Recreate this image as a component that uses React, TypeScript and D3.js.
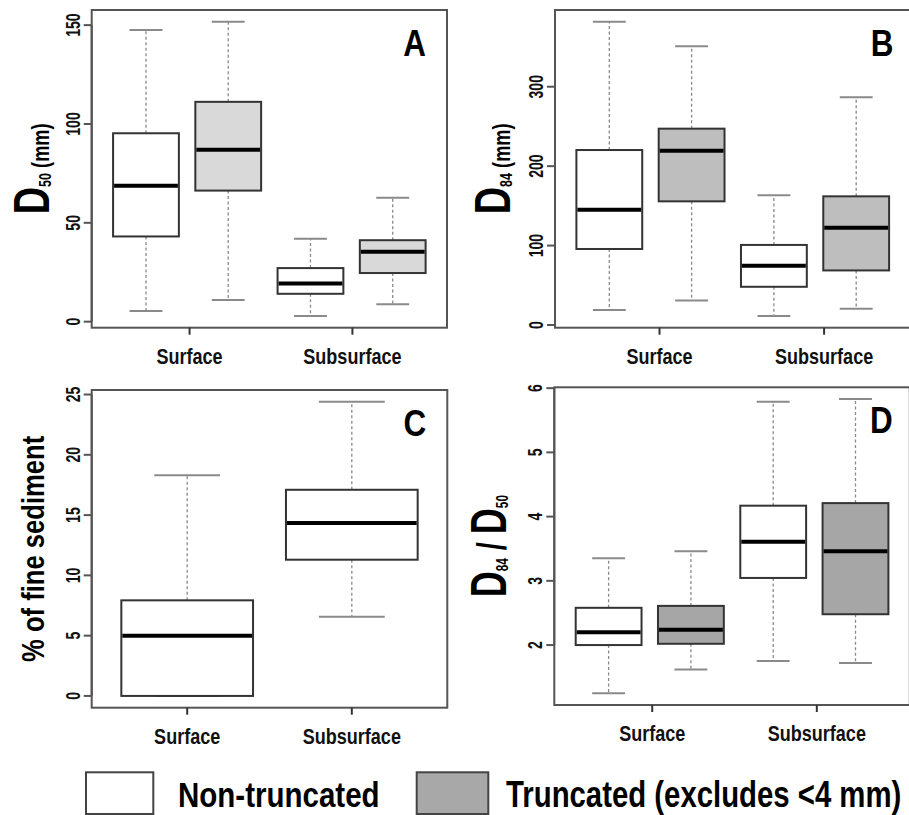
import React from 'react';
import * as d3 from 'd3';

// Five-number summaries per group: [lower whisker, Q1, median, Q3, upper whisker]
const groups = ['Surface', 'Subsurface'];

const d50NonTruncated = [[5.4, 43.1, 68.8, 95.3, 147.5], [2.9, 14.1, 19.3, 27.1, 41.9]];
const d50Truncated = [[11.0, 66.3, 87.0, 111.2, 151.7], [8.8, 24.6, 35.4, 41.2, 62.7]];

const d84NonTruncated = [[19.0, 95.7, 145.0, 220.3, 381.8], [11.4, 48.1, 74.7, 100.8, 163.3]];
const d84Truncated = [[30.8, 155.7, 219.4, 247.2, 351.0], [20.6, 68.7, 122.3, 162.0, 286.8]];

const fineNonTruncated = [[0, 0, 5.0, 7.93, 18.3], [6.57, 11.3, 14.35, 17.1, 24.4]];

const ratioNonTruncated = [[1.25, 2.0, 2.2, 2.58, 3.35], [1.75, 3.045, 3.61, 4.17, 5.79]];
const ratioTruncated = [[1.62, 2.02, 2.24, 2.61, 3.46], [1.72, 2.48, 3.46, 4.21, 5.83]];

const d50Ticks = [0, 50, 100, 150];
const d84Ticks = [0, 100, 200, 300];
const fineTicks = [0, 5, 10, 15, 20, 25];
const ratioTicks = [2, 3, 4, 5, 6];

const legendLabels = ['Non-truncated', 'Truncated (excludes <4 mm)'];

const FONT = "'Liberation Sans', Arial, 'Helvetica', sans-serif";

// condensed bold text helper
function NText({ x, y, rot = 0, sx = 0.82, size, anchor = 'start', fill = '#000', children }: any) {
  return (
    <text transform={`translate(${x},${y}) rotate(${rot}) scale(${sx},1)`} textAnchor={anchor}
      fontFamily={FONT} fontWeight="bold" fontSize={size} fill={fill}>{children}</text>
  );
}

type Box = number[];
interface PanelSpec {
  key: string;
  letter: string;
  frame: [number, number, number, number]; // left, top, right, bottom
  boxes: { stats: Box; fill: string }[];
  yTicks: number[];
  xTickAt: number[];
  label: React.ReactNode;
  labelX: number;
  labelSx: number;
}

function Panel({ p }: { p: PanelSpec }) {
  const [L, T, R, B] = p.frame;
  const n = p.boxes.length;
  const x = d3.scaleLinear().domain([0.5 - 0.04 * n, n + 0.5 + 0.04 * n]).range([L, R]);
  const all = p.boxes.flatMap(b => [b.stats[0], b.stats[4]]);
  const [mn, mx] = d3.extent(all) as [number, number];
  const pad = (mx - mn) * 0.04;
  const y = d3.scaleLinear().domain([mn - pad, mx + pad]).range([B, T]);
  const bw = x(1.4) - x(0.6);
  const cw = bw / 2;
  const cy = (T + B) / 2;
  return (
    <g>
      {p.boxes.map((b, i) => {
        const cx = x(i + 1);
        const [lo, q1, md, q3, hi] = b.stats;
        return (
          <g key={i}>
            <line x1={cx} x2={cx} y1={y(q3)} y2={y(hi)} stroke="#8a8a8a" strokeWidth={1.3} strokeDasharray="3,2.5" />
            <line x1={cx} x2={cx} y1={y(q1)} y2={y(lo)} stroke="#8a8a8a" strokeWidth={1.3} strokeDasharray="3,2.5" />
            <line x1={cx - cw / 2} x2={cx + cw / 2} y1={y(hi)} y2={y(hi)} stroke="#8a8a8a" strokeWidth={2} />
            <line x1={cx - cw / 2} x2={cx + cw / 2} y1={y(lo)} y2={y(lo)} stroke="#8a8a8a" strokeWidth={2} />
            <rect x={cx - bw / 2} y={y(q3)} width={bw} height={y(q1) - y(q3)} fill={b.fill} stroke="#333" strokeWidth={2} />
            <line x1={cx - bw / 2 + 1} x2={cx + bw / 2 - 1} y1={y(md)} y2={y(md)} stroke="#000" strokeWidth={4} />
          </g>
        );
      })}
      <rect x={L} y={T} width={R - L} height={B - T} fill="none" stroke="#555" strokeWidth={2} />
      <line x1={L} x2={L} y1={y(p.yTicks[0])} y2={y(p.yTicks[p.yTicks.length - 1])} stroke="#555" strokeWidth={2} />
      {p.yTicks.map(t => (
        <g key={t}>
          <line x1={L - 8} x2={L} y1={y(t)} y2={y(t)} stroke="#555" strokeWidth={2} />
          <NText x={L - 12} y={y(t)} rot={-90} sx={0.72} size={19.5} anchor="middle" fill="#111">{t}</NText>
        </g>
      ))}
      {p.xTickAt.map((t, i) => (
        <g key={i}>
          <line x1={x(t)} x2={x(t)} y1={B} y2={B + 7} stroke="#333" strokeWidth={2} />
          <NText x={x(t)} y={B + 36} size={22} anchor="middle" fill="#111">{groups[i]}</NText>
        </g>
      ))}
      <NText x={R - (R > 900 ? 17 : 21)} y={T + 46} size={37} sx={0.85} anchor="end">{p.letter}</NText>
      <NText x={p.labelX} y={cy} rot={-90} sx={p.labelSx} anchor="middle">{p.label}</NText>
    </g>
  );
}

const dLabel = (sub: string, rest: React.ReactNode) => (
  <>
    <tspan fontSize={50}>D</tspan>
    <tspan fontSize={16.5} dy={2}>{sub}</tspan>
    <tspan dy={-2}>{rest}</tspan>
  </>
);

export default function App() {
  const white = '#ffffff';
  const panels: PanelSpec[] = [
    {
      key: 'A', letter: 'A', frame: [91.7, 10, 447, 327.7],
      boxes: [
        { stats: d50NonTruncated[0], fill: white },
        { stats: d50Truncated[0], fill: '#d9d9d9' },
        { stats: d50NonTruncated[1], fill: white },
        { stats: d50Truncated[1], fill: '#d9d9d9' },
      ],
      yTicks: d50Ticks, xTickAt: [1.53, 3.51],
      label: dLabel('50', <tspan fontSize={24}> (mm)</tspan>), labelX: 49, labelSx: 0.76,
    },
    {
      key: 'B', letter: 'B', frame: [555, 10, 910.5, 327.7],
      boxes: [
        { stats: d84NonTruncated[0], fill: white },
        { stats: d84Truncated[0], fill: '#bebebe' },
        { stats: d84NonTruncated[1], fill: white },
        { stats: d84Truncated[1], fill: '#bebebe' },
      ],
      yTicks: d84Ticks, xTickAt: [1.61, 3.61],
      label: dLabel('84', <tspan fontSize={24}> (mm)</tspan>), labelX: 510, labelSx: 0.76,
    },
    {
      key: 'C', letter: 'C', frame: [91.7, 390, 447.3, 707.7],
      boxes: [
        { stats: fineNonTruncated[0], fill: white },
        { stats: fineNonTruncated[1], fill: white },
      ],
      yTicks: fineTicks, xTickAt: [1, 2],
      label: <tspan fontSize={32}>% of fine sediment</tspan>, labelX: 43.5, labelSx: 0.8,
    },
    {
      key: 'D', letter: 'D', frame: [554.3, 387.3, 909.8, 705],
      boxes: [
        { stats: ratioNonTruncated[0], fill: white },
        { stats: ratioTruncated[0], fill: '#a6a6a6' },
        { stats: ratioNonTruncated[1], fill: white },
        { stats: ratioTruncated[1], fill: '#a6a6a6' },
      ],
      yTicks: ratioTicks, xTickAt: [1.53, 3.53],
      label: dLabel('84', <><tspan fontSize={40}> / </tspan><tspan fontSize={50}>D</tspan><tspan fontSize={16.5} dy={2}>50</tspan></>), labelX: 506, labelSx: 0.72,
    },
  ];

  return (
    <svg width={909} height={815} style={{ position: 'absolute', left: 0, top: 0, background: '#fff' }}>
      <rect width={909} height={815} fill="#fff" />
      {panels.map(p => <Panel key={p.key} p={p} />)}
      <rect x={86} y={772.3} width={67.3} height={41.7} fill="#fff" stroke="#444" strokeWidth={2} />
      <NText x={178} y={806.7} size={36}>{legendLabels[0]}</NText>
      <rect x={416.7} y={772.3} width={71.6} height={41.7} fill="#a8a8a8" stroke="#444" strokeWidth={2} />
      <NText x={506} y={806.7} size={36} sx={0.815}>{legendLabels[1]}</NText>
    </svg>
  );
}
